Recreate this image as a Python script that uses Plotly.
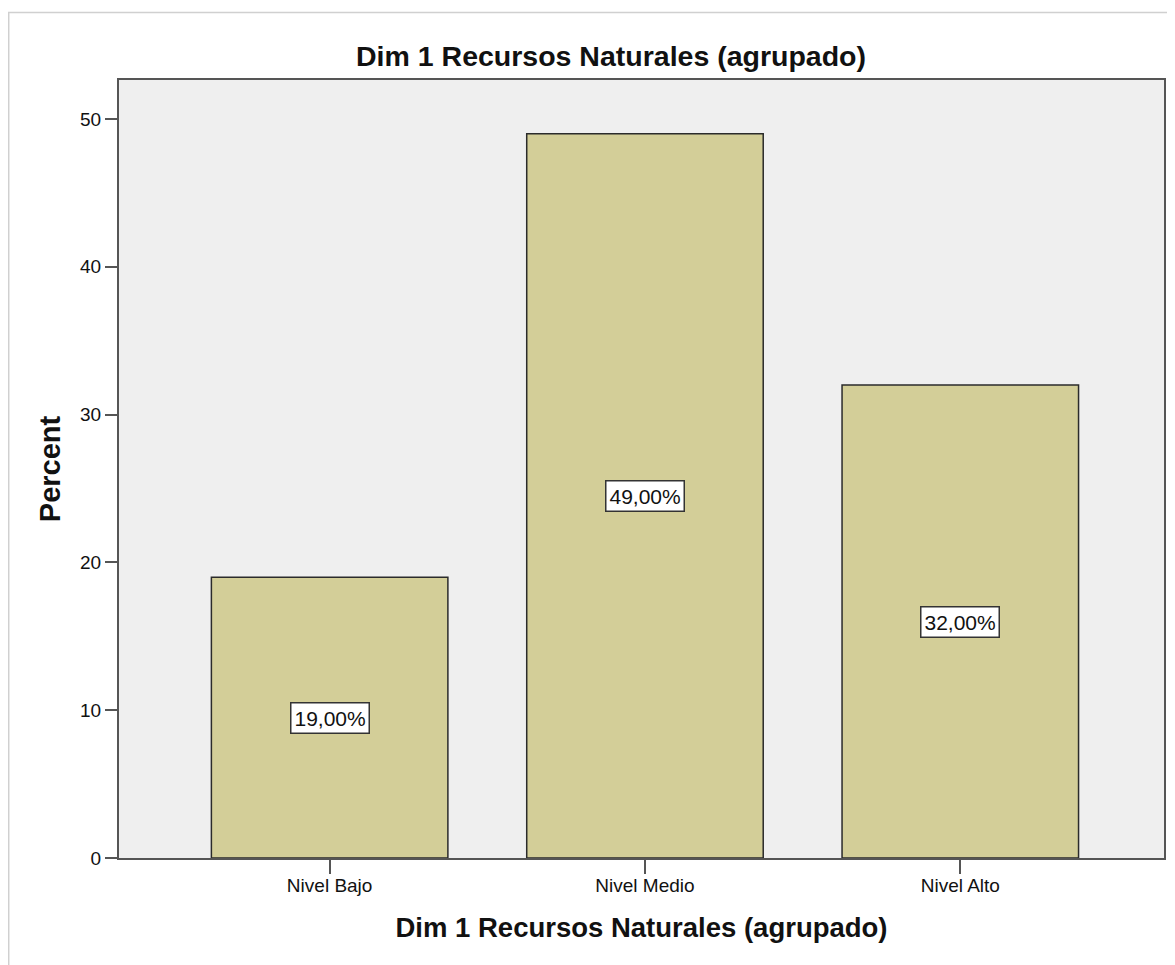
import plotly.graph_objects as go

categories = ["Nivel Bajo", "Nivel Medio", "Nivel Alto"]
percents = [19.0, 49.0, 32.0]
labels = ["19,00%", "49,00%", "32,00%"]
y_ticks = [0, 10, 20, 30, 40, 50]

# page has an 8px body margin; figure is sized/offset to compensate
OFF = 8
W, H = 1159, 965 - OFF
L, R, T = 119 - OFF, 1, 80 - OFF
B = H - (858 - OFF)
pw = W - L - R
ph = H - T - B
FONT = "Arial, Liberation Sans, sans-serif"

fig = go.Figure()
fig.add_trace(go.Bar(
    x=list(range(len(categories))), y=percents, width=0.75,
    marker=dict(color="#D3CE98", line=dict(color="#2b2b2b", width=1.5)),
    hoverinfo="skip",
))

for i, (v, lab) in enumerate(zip(percents, labels)):
    fig.add_annotation(x=i, y=v / 2, text=lab, showarrow=False,
                       font=dict(family=FONT, size=21, color="#111"),
                       bgcolor="white", bordercolor="#333", borderwidth=1.5, borderpad=3)

fig.update_layout(
    width=W, height=H,
    margin=dict(l=L, r=R, t=T, b=B),
    paper_bgcolor="white", plot_bgcolor="#EFEFEF",
    showlegend=False,
    font=dict(family=FONT, color="#111"),
    title=dict(text="<b>Dim 1 Recursos Naturales (agrupado)</b>",
               x=(611 - OFF) / W, xref="container", xanchor="center",
               y=1 - (56 - OFF) / H, yref="container", yanchor="middle",
               font=dict(size=28.5, color="#111")),
    xaxis=dict(
        tickmode="array", tickvals=list(range(len(categories))), ticktext=categories,
        range=[-0.668, 2.646], showgrid=False, zeroline=False,
        showline=True, linecolor="#555", linewidth=2, mirror=True,
        ticks="outside", ticklen=14, tickwidth=2, tickcolor="#555",
        tickfont=dict(size=19, color="#111"), ticklabelstandoff=-5,
        title=dict(text="<b>Dim 1 Recursos Naturales (agrupado)</b>",
                   font=dict(size=27.5, color="#111"), standoff=23),
    ),
    yaxis=dict(
        range=[0, 52.64], tickvals=y_ticks, showgrid=False, zeroline=False,
        showline=True, linecolor="#555", linewidth=2, mirror=True,
        ticks="outside", ticklen=12, tickwidth=2, tickcolor="#555",
        tickfont=dict(size=19, color="#111"),
        title=dict(text="<b>Percent</b>", font=dict(size=29, color="#111"), standoff=11),
    ),
    shapes=[dict(type="rect", xref="paper", yref="paper",
                 x0=(0.5 - L) / pw, x1=(W + 20 - L) / pw,
                 y0=-(H + 40 - T - ph) / ph, y1=1 + (T - 4.5) / ph,
                 line=dict(color="#D0D0D0", width=1.5), layer="below")],
)

fig.write_html("out.html")
